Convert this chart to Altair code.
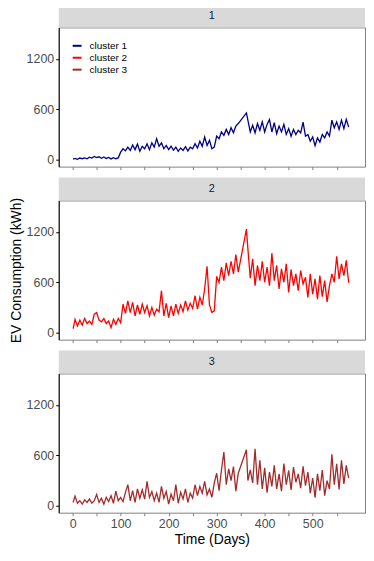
import altair as alt
import pandas as pd

DAYS = [1, 5, 10, 15, 20, 25, 30, 35, 40, 45, 50, 55, 60, 65, 70, 75, 80, 85, 90, 95,
        100, 105, 110, 115, 120, 125, 130, 135, 140, 145, 150, 155, 160, 165, 170, 175,
        180, 185, 190, 195, 200, 205, 210, 215, 220, 225, 230, 235, 240, 245, 250, 255,
        260, 265, 270, 275, 280, 285, 290, 295, 300, 305, 310, 315, 320, 325, 330, 335,
        340, 345,
        362, 365, 370, 375, 380, 385, 390, 395, 400, 405, 410, 415, 420, 425, 430, 435,
        440, 445, 450, 455, 460, 465, 470, 475, 480, 485, 490, 495, 500, 505, 510, 515,
        520, 525, 530, 535, 540, 545, 550, 555, 560, 565, 570, 575]

CLUSTER_1 = [8, 15, 5, 20, 12, 22, 10, 30, 20, 38, 25, 35, 18, 32, 15, 28, 10, 25, 12, 22,
             90, 130, 105, 150, 110, 175, 120, 185, 100, 160,
             130, 190, 120, 200, 150, 250, 160, 200, 130, 170,
             120, 160, 115, 150, 100, 140, 110, 155, 105, 150,
             130, 190, 140, 220, 160, 270, 170, 230, 130, 150,
             280, 250, 330, 290, 360, 300, 380, 320, 400, 430,
             556, 470, 330, 410, 320, 430, 350, 450, 330, 420,
             478, 330, 440, 310, 400, 330, 420, 300, 370, 280,
             360, 300, 350, 320, 446, 280, 300, 220, 270, 167,
             260, 210, 300, 260, 330, 280, 470, 380, 450, 360,
             470, 370, 480, 388]

CLUSTER_2 = [50, 160, 80, 150, 90, 170, 110, 140, 100, 220,
             240, 150, 130, 170, 110, 140, 60, 160, 100, 170,
             120, 340, 230, 380, 240, 360, 200, 330, 220, 340,
             240, 320, 200, 300, 210, 280, 250, 500, 200, 350,
             180, 320, 200, 340, 230, 330, 250, 380, 270, 350,
             290, 440, 280, 420, 330, 520, 790, 330, 240, 260,
             670, 600, 780, 620, 830, 680, 850, 700, 930, 720,
             1232, 1000, 650, 880, 560, 800, 620, 850, 600, 780,
             560, 946, 620, 800, 520, 760, 600, 820, 480, 750,
             560, 700, 500, 740, 580, 660, 420, 700, 460, 640,
             400, 680, 430, 620, 367, 560, 700, 600, 910, 640,
             820, 680, 860, 594]

CLUSTER_3 = [39, 116, 30, 60, 20, 70, 40, 80, 30, 60,
             135, 40, 90, 20, 100, 50, 120, 30, 174, 60,
             100, 50, 160, 251, 60, 180, 40, 200, 90, 190,
             80, 290, 100, 170, 60, 150, 40, 232, 90, 170,
             20, 140, 60, 251, 30, 160, 80, 200, 40, 150,
             90, 250, 120, 230, 150, 290, 130, 200, 100, 270,
             387, 180, 426, 639, 250, 440, 300, 465, 174, 387,
             666, 300, 426, 271, 677, 250, 542, 200, 450, 155,
             400, 230, 480, 200, 380, 174, 503, 250, 420, 190,
             460, 280, 380, 210, 470, 240, 400, 150, 330, 97,
             380, 180, 426, 120, 300, 200, 612, 250, 500, 193,
             542, 260, 480, 329]

CLUSTERS = ["cluster 1", "cluster 2", "cluster 3"]
COLORS = ["#00008B", "#FF0000", "#A52A2A"]
PANEL_LABELS = ["1", "2", "3"]
Y_TICKS = [0, 600, 1200]
X_TICKS = [0, 50, 100, 150, 200, 250, 300, 350, 400, 450, 500, 550]

rows = []
for name, vals in zip(CLUSTERS, [CLUSTER_1, CLUSTER_2, CLUSTER_3]):
    for d, v in zip(DAYS, vals):
        rows.append({"day": d, "value": v, "cluster": name})
df = pd.DataFrame(rows)

W = 308
H = 140
STRIP = 23
FONT = "Liberation Sans"


def panel(i):
    name = CLUSTERS[i]
    sub = df[df["cluster"] == name]
    bottom = i == 2
    x_kwargs = dict(
        values=X_TICKS,
        labelExpr="datum.value % 100 == 0 ? datum.label : ''",
        labels=bottom,
        domain=False,
        grid=False,
        tickColor="#7F7F7F",
        tickSize=3,
        labelColor="#4D4D4D",
        labelFontSize=12.5,
        labelFont=FONT,
        labelPadding=2,
        titleFont=FONT,
        titleFontSize=14,
        titleFontWeight="normal",
        titleColor="black",
        titlePadding=2,
    )
    if bottom:
        x_axis = alt.Axis(title="Time (Days)", **x_kwargs)
    else:
        x_axis = alt.Axis(title=None, **x_kwargs)
    y_kwargs = dict(
        values=Y_TICKS,
        format="d",
        titleFont=FONT,
        titleFontSize=14,
        titleFontWeight="normal",
        titleColor="black",
        titlePadding=3,
        domainColor="black",
        tickColor="black",
        tickSize=3,
        grid=False,
        labelColor="#4D4D4D",
        labelFontSize=12.5,
        labelFont=FONT,
        labelPadding=2,
    )
    if i == 1:
        y_axis = alt.Axis(title="EV Consumption (kWh)", **y_kwargs)
    else:
        y_axis = alt.Axis(title=None, **y_kwargs)
    x = alt.X("day:Q", scale=alt.Scale(domain=[-29, 609], nice=False, zero=False), axis=x_axis)
    y = alt.Y("value:Q", scale=alt.Scale(domain=[-82, 1573], nice=False, zero=False), axis=y_axis)
    if i == 0:
        color = alt.Color(
            "cluster:N",
            scale=alt.Scale(domain=CLUSTERS, range=COLORS),
            legend=alt.Legend(
                title=None,
                orient="top-left",
                offset=13,
                padding=0,
                symbolType="stroke",
                symbolStrokeWidth=2,
                symbolSize=80,
                labelFont=FONT,
                labelFontSize=10,
                labelColor="black",
                labelOffset=7,
                rowPadding=1,
            ),
        )
    else:
        color = alt.value(COLORS[i])
    line = alt.Chart(sub).mark_line(strokeWidth=1.3).encode(x=x, y=y, color=color)
    strip_df = pd.DataFrame({"label": [PANEL_LABELS[i]]})
    rect = alt.Chart(strip_df).mark_rect(color="#D9D9D9").encode(
        x=alt.value(0), x2=alt.value(W), y=alt.value(-STRIP), y2=alt.value(0)
    )
    text = alt.Chart(strip_df).mark_text(fontSize=11, color="#1A1A1A", font=FONT).encode(
        x=alt.value(W / 2), y=alt.value(-STRIP / 2), text="label:N"
    )
    return alt.layer(rect, text, line).properties(width=W, height=H)


chart = (
    alt.vconcat(panel(0), panel(1), panel(2), spacing=6)
    .resolve_scale(color="independent")
    .configure_view(stroke="#7F7F7F", strokeWidth=1)
    .properties(padding={"left": 0, "top": -6, "right": 0, "bottom": 0}, background="white")
)

chart.save("out.html", embed_options={"renderer": "svg", "actions": False})
